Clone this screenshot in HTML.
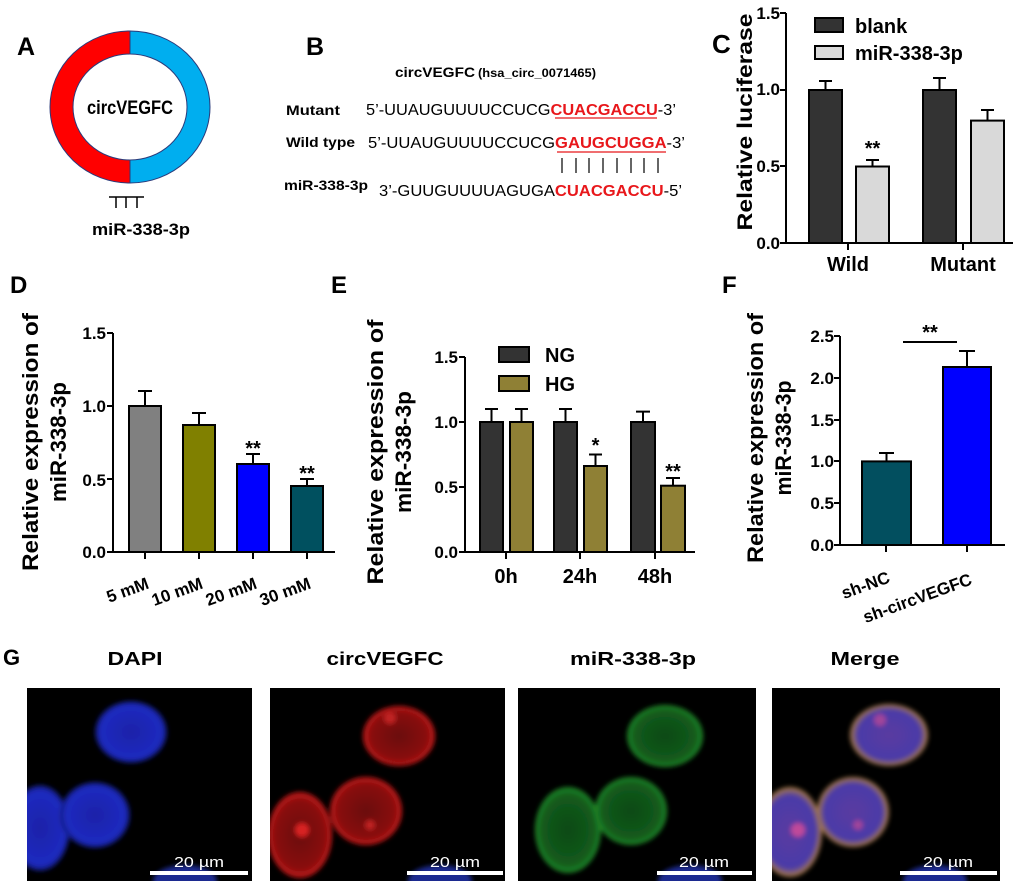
<!DOCTYPE html>
<html><head><meta charset="utf-8"><style>
html,body{margin:0;padding:0;background:#fff;}
svg{display:block;font-family:"Liberation Sans",sans-serif;}
.b{font-weight:bold;}
</style></head><body>
<svg width="1020" height="888" viewBox="0 0 1020 888" xmlns="http://www.w3.org/2000/svg">
<defs>
<filter id="bl" x="-30%" y="-30%" width="160%" height="160%"><feGaussianBlur stdDeviation="2.5"/></filter>
<radialGradient id="gB" cx="50%" cy="50%" r="50%"><stop offset="0" stop-color="#1a22a8"/><stop offset="0.85" stop-color="#1d2ac0"/><stop offset="1" stop-color="#101870"/></radialGradient>
<radialGradient id="gR" cx="50%" cy="50%" r="50%"><stop offset="0" stop-color="#6a0808"/><stop offset="0.8" stop-color="#8a1010"/><stop offset="1" stop-color="#c81616"/></radialGradient>
<radialGradient id="gG" cx="50%" cy="50%" r="50%"><stop offset="0" stop-color="#0c4a14"/><stop offset="0.8" stop-color="#135a1c"/><stop offset="1" stop-color="#1f8a28"/></radialGradient>
<radialGradient id="gM" cx="50%" cy="50%" r="50%"><stop offset="0" stop-color="#5a3aa0"/><stop offset="0.8" stop-color="#4a3aa8"/><stop offset="1" stop-color="#b0803a"/></radialGradient>
</defs>

<!-- Panel A -->
<text x="17" y="55" class="b" font-size="25">A</text>
<path d="M130,31 A80,76 0 0 0 130,183 L130,160 A57,53 0 0 1 130,54 Z" fill="#ff0000" stroke="#2a3a7a" stroke-width="1"/>
<path d="M130,31 A80,76 0 0 1 130,183 L130,160 A57,53 0 0 0 130,54 Z" fill="#00aeef" stroke="#2a3a7a" stroke-width="1"/>
<text x="130" y="114" text-anchor="middle" class="b" font-size="19" textLength="86" lengthAdjust="spacingAndGlyphs">circVEGFC</text>
<path d="M109,197 H144 M116,197 V208 M126,197 V208 M137,197 V208" stroke="#000" stroke-width="1.5" fill="none"/>
<text x="92" y="235" class="b" font-size="17" textLength="98" lengthAdjust="spacingAndGlyphs">miR-338-3p</text>

<!-- Panel B -->
<text x="306" y="55" class="b" font-size="25">B</text>
<text x="395" y="77" class="b" font-size="14" textLength="80" lengthAdjust="spacingAndGlyphs">circVEGFC</text>
<text x="478" y="77" class="b" font-size="12" textLength="118" lengthAdjust="spacingAndGlyphs">(hsa_circ_0071465)</text>
<text x="286" y="115" class="b" font-size="14" textLength="54" lengthAdjust="spacingAndGlyphs">Mutant</text>
<text x="366" y="115" font-size="16" textLength="310" lengthAdjust="spacingAndGlyphs">5’-UUAUGUUUUCCUCG<tspan fill="#e8171b" font-weight="bold">CUACGACCU</tspan>-3’</text>
<text x="286" y="147" class="b" font-size="14" textLength="69" lengthAdjust="spacingAndGlyphs">Wild type</text>
<text x="368" y="148" font-size="16" textLength="317" lengthAdjust="spacingAndGlyphs">5’-UUAUGUUUUCCUCG<tspan fill="#e8171b" font-weight="bold">GAUGCUGGA</tspan>-3’</text>
<line x1="555" y1="118" x2="657" y2="118" stroke="#e8171b" stroke-width="1.3"/>
<line x1="557" y1="152" x2="666" y2="152" stroke="#e8171b" stroke-width="1.3"/>
<g stroke="#000" stroke-width="1.2">
<line x1="562" y1="158" x2="562" y2="173"/><line x1="576" y1="158" x2="576" y2="173"/><line x1="589" y1="158" x2="589" y2="173"/><line x1="603" y1="158" x2="603" y2="173"/><line x1="617" y1="158" x2="617" y2="173"/><line x1="631" y1="158" x2="631" y2="173"/><line x1="644" y1="158" x2="644" y2="173"/><line x1="658" y1="158" x2="658" y2="173"/>
</g>
<text x="284" y="190" class="b" font-size="14" textLength="84" lengthAdjust="spacingAndGlyphs">miR-338-3p</text>
<text x="379" y="196" font-size="16" textLength="303" lengthAdjust="spacingAndGlyphs">3’-GUUGUUUUAGUGA<tspan fill="#e8171b" font-weight="bold">CUACGACCU</tspan>-5’</text>

<!-- Panel C -->
<text x="712" y="53" class="b" font-size="26">C</text>
<text transform="translate(752,122) rotate(-90)" text-anchor="middle" class="b" font-size="21" textLength="217" lengthAdjust="spacingAndGlyphs">Relative luciferase</text>
<g class="b" font-size="17" text-anchor="end">
<text x="780" y="19">1.5</text><text x="780" y="95">1.0</text><text x="780" y="172">0.5</text><text x="780" y="249">0.0</text>
</g>
<g stroke="#000" stroke-width="2" fill="none">
<path d="M786,13 V243 H1013 M780,13 H786 M780,90 H786 M780,166 H786 M780,243 H786 M848,243 V250 M963,243 V250"/>
</g>
<g stroke="#000" stroke-width="2">
<rect x="809" y="90" width="33" height="153" fill="#333"/>
<rect x="856" y="166.5" width="33" height="76.5" fill="#d9d9d9"/>
<rect x="923" y="90" width="33" height="153" fill="#333"/>
<rect x="971" y="120.6" width="33" height="122.4" fill="#d9d9d9"/>
<path d="M825.5,90 V81 M819,81 H832 M872.5,166.5 V160 M866,160 H879 M939.5,90 V78 M933,78 H946 M987.5,120.6 V110 M981,110 H994" fill="none"/>
<rect x="815" y="18" width="28" height="14" fill="#333"/>
<rect x="815" y="46" width="28" height="13" fill="#d9d9d9"/>
</g>
<text x="872.5" y="155" text-anchor="middle" class="b" font-size="20">**</text>
<text x="855" y="33" class="b" font-size="20">blank</text>
<text x="855" y="60" class="b" font-size="20">miR-338-3p</text>
<text x="848" y="271" text-anchor="middle" class="b" font-size="20">Wild</text>
<text x="963" y="271" text-anchor="middle" class="b" font-size="20">Mutant</text>

<!-- Panel D -->
<text x="10" y="293" class="b" font-size="24">D</text>
<text transform="translate(38,442) rotate(-90)" text-anchor="middle" class="b" font-size="22" textLength="258" lengthAdjust="spacingAndGlyphs">Relative expression of</text>
<text transform="translate(66,442) rotate(-90)" text-anchor="middle" class="b" font-size="22" textLength="120" lengthAdjust="spacingAndGlyphs">miR-338-3p</text>
<g class="b" font-size="17" text-anchor="end">
<text x="106" y="339">1.5</text><text x="106" y="412">1.0</text><text x="106" y="486">0.5</text><text x="106" y="558">0.0</text>
</g>
<path d="M113,333 V552 H335 M107,333 H113 M107,406 H113 M107,479 H113 M107,552 H113 M145,552 V559 M199,552 V559 M253,552 V559 M307,552 V559" stroke="#000" stroke-width="2" fill="none"/>
<g stroke="#000" stroke-width="2">
<rect x="129" y="406" width="32" height="146" fill="#808080"/>
<rect x="183" y="425" width="32" height="127" fill="#808000"/>
<rect x="237" y="464" width="32" height="88" fill="#0000ff"/>
<rect x="291" y="486" width="32" height="66" fill="#00505f"/>
<path d="M145,406 V391 M138,391 H152 M199,425 V413 M192,413 H206 M253,464 V454 M246,454 H260 M307,486 V479 M300,479 H314" fill="none"/>
</g>
<text x="253" y="455" text-anchor="middle" class="b" font-size="20">**</text>
<text x="307" y="480" text-anchor="middle" class="b" font-size="20">**</text>
<g class="b" font-size="17" text-anchor="end">
<text transform="translate(150,588) rotate(-20)">5 mM</text>
<text transform="translate(204,588) rotate(-20)">10 mM</text>
<text transform="translate(258,588) rotate(-20)">20 mM</text>
<text transform="translate(312,588) rotate(-20)">30 mM</text>
</g>

<!-- Panel E -->
<text x="331" y="293" class="b" font-size="24">E</text>
<text transform="translate(383,452) rotate(-90)" text-anchor="middle" class="b" font-size="22" textLength="265" lengthAdjust="spacingAndGlyphs">Relative expression of</text>
<text transform="translate(411,452) rotate(-90)" text-anchor="middle" class="b" font-size="22" textLength="122" lengthAdjust="spacingAndGlyphs">miR-338-3p</text>
<g class="b" font-size="17" text-anchor="end">
<text x="458" y="363">1.5</text><text x="458" y="428">1.0</text><text x="458" y="493">0.5</text><text x="458" y="558">0.0</text>
</g>
<path d="M465,357 V552 H695 M459,357 H465 M459,422 H465 M459,487 H465 M459,552 H465 M506,552 V559 M580,552 V559 M655,552 V559" stroke="#000" stroke-width="2" fill="none"/>
<g stroke="#000" stroke-width="2">
<rect x="480" y="422" width="23" height="130" fill="#333"/>
<rect x="510" y="422" width="23" height="130" fill="#8f8035"/>
<rect x="554" y="422" width="23" height="130" fill="#333"/>
<rect x="584" y="466" width="23" height="86" fill="#8f8035"/>
<rect x="631" y="422" width="24" height="130" fill="#333"/>
<rect x="661" y="485.7" width="24" height="66.3" fill="#8f8035"/>
<path d="M491.5,422 V409 M485,409 H498 M521.5,422 V409 M515,409 H528 M565.5,422 V409 M559,409 H572 M595.5,466 V454.5 M589,454.5 H602 M643,422 V411.6 M636,411.6 H650 M673,485.7 V478 M666,478 H680" fill="none"/>
<rect x="499" y="347" width="30" height="15" fill="#333"/>
<rect x="499" y="376" width="30" height="15" fill="#8f8035"/>
</g>
<text x="545" y="362" class="b" font-size="20">NG</text>
<text x="545" y="391" class="b" font-size="20">HG</text>
<text x="595.5" y="452" text-anchor="middle" class="b" font-size="20">*</text>
<text x="673" y="478" text-anchor="middle" class="b" font-size="20">**</text>
<g class="b" font-size="20" text-anchor="middle">
<text x="506" y="583">0h</text><text x="580" y="583">24h</text><text x="655" y="583">48h</text>
</g>

<!-- Panel F -->
<text x="722" y="293" class="b" font-size="24">F</text>
<text transform="translate(763,438) rotate(-90)" text-anchor="middle" class="b" font-size="22" textLength="250" lengthAdjust="spacingAndGlyphs">Relative expression of</text>
<text transform="translate(791,438) rotate(-90)" text-anchor="middle" class="b" font-size="22" textLength="115" lengthAdjust="spacingAndGlyphs">miR-338-3p</text>
<g class="b" font-size="17" text-anchor="end">
<text x="834" y="342">2.5</text><text x="834" y="384">2.0</text><text x="834" y="426">1.5</text><text x="834" y="467">1.0</text><text x="834" y="509">0.5</text><text x="834" y="551">0.0</text>
</g>
<path d="M840,336 V545 H1005 M834,336 H840 M834,378 H840 M834,420 H840 M834,461 H840 M834,503 H840 M834,545 H840 M886,545 V552 M967,545 V552" stroke="#000" stroke-width="2" fill="none"/>
<g stroke="#000" stroke-width="2">
<rect x="862" y="461.4" width="49" height="83.6" fill="#024f5f"/>
<rect x="943" y="367" width="48" height="178" fill="#0000ff"/>
<path d="M886.5,461.4 V453 M879,453 H894 M967,367 V351 M959,351 H975 M903,342 H957" fill="none"/>
</g>
<text x="930" y="339" text-anchor="middle" class="b" font-size="20">**</text>
<g class="b" font-size="17" text-anchor="end">
<text transform="translate(891,582) rotate(-20)">sh-NC</text>
<text transform="translate(973,584) rotate(-20)">sh-circVEGFC</text>
</g>

<!-- Panel G -->
<text x="3" y="665" class="b" font-size="22">G</text>
<g class="b" font-size="18" text-anchor="middle">
<text x="135" y="665" textLength="55" lengthAdjust="spacingAndGlyphs">DAPI</text>
<text x="385" y="665" textLength="117" lengthAdjust="spacingAndGlyphs">circVEGFC</text>
<text x="633" y="665" textLength="126" lengthAdjust="spacingAndGlyphs">miR-338-3p</text>
<text x="865" y="665" textLength="69" lengthAdjust="spacingAndGlyphs">Merge</text>
</g>
<svg x="27" y="688" width="225" height="193" viewBox="27 688 225 193">
<rect x="27" y="688" width="225" height="193" fill="#000"/>
<g filter="url(#bl)">
<ellipse cx="131" cy="732" rx="36" ry="31" fill="url(#gB)"/>
<ellipse cx="40" cy="828" rx="30" ry="43" fill="url(#gB)"/>
<ellipse cx="95" cy="815" rx="35" ry="33" fill="url(#gB)"/>
<ellipse cx="185" cy="881" rx="32" ry="16" fill="#1a2a90"/>
</g>
<rect x="150" y="871" width="98" height="4" fill="#fff"/>
<text x="199" y="867" text-anchor="middle" fill="#fff" font-size="15" textLength="50" lengthAdjust="spacingAndGlyphs">20 µm</text>
</svg>
<svg x="270" y="688" width="235" height="193" viewBox="270 688 235 193">
<rect x="270" y="688" width="235" height="193" fill="#000"/>
<g filter="url(#bl)">
<ellipse cx="399" cy="736" rx="36" ry="30" fill="url(#gR)"/>
<ellipse cx="300" cy="835" rx="32" ry="43" fill="url(#gR)"/>
<ellipse cx="366" cy="811" rx="36" ry="34" fill="url(#gR)"/>
<circle cx="302" cy="830" r="7" fill="#d82020"/><circle cx="390" cy="718" r="6" fill="#c02020"/><circle cx="370" cy="825" r="5" fill="#c02020"/>
<ellipse cx="440" cy="881" rx="32" ry="16" fill="#1a2a90"/>
</g>
<rect x="407" y="871" width="96" height="4" fill="#fff"/>
<text x="455" y="867" text-anchor="middle" fill="#fff" font-size="15" textLength="50" lengthAdjust="spacingAndGlyphs">20 µm</text>
</svg>
<svg x="518" y="688" width="238" height="193" viewBox="518 688 238 193">
<rect x="518" y="688" width="238" height="193" fill="#000"/>
<g filter="url(#bl)">
<ellipse cx="665" cy="736" rx="38" ry="31" fill="url(#gG)"/>
<ellipse cx="568" cy="830" rx="33" ry="43" fill="url(#gG)"/>
<ellipse cx="631" cy="811" rx="36" ry="34" fill="url(#gG)"/>
<ellipse cx="690" cy="881" rx="32" ry="16" fill="#1a2a90"/>
</g>
<rect x="657" y="871" width="95" height="4" fill="#fff"/>
<text x="704" y="867" text-anchor="middle" fill="#fff" font-size="15" textLength="50" lengthAdjust="spacingAndGlyphs">20 µm</text>
</svg>
<svg x="772" y="688" width="228" height="193" viewBox="772 688 228 193">
<rect x="772" y="688" width="228" height="193" fill="#000"/>
<g filter="url(#bl)">
<ellipse cx="889" cy="735" rx="39" ry="31" fill="url(#gM)"/>
<ellipse cx="790" cy="832" rx="32" ry="45" fill="url(#gM)"/>
<ellipse cx="853" cy="812" rx="36" ry="35" fill="url(#gM)"/>
<circle cx="798" cy="830" r="7" fill="#c04a9a"/><circle cx="880" cy="720" r="6" fill="#a0449a"/><circle cx="858" cy="825" r="5" fill="#a0449a"/>
<ellipse cx="935" cy="881" rx="32" ry="16" fill="#1a2a90"/>
</g>
<rect x="900" y="871" width="97" height="4" fill="#fff"/>
<text x="948" y="867" text-anchor="middle" fill="#fff" font-size="15" textLength="50" lengthAdjust="spacingAndGlyphs">20 µm</text>
</svg>
</svg>
</body></html>
